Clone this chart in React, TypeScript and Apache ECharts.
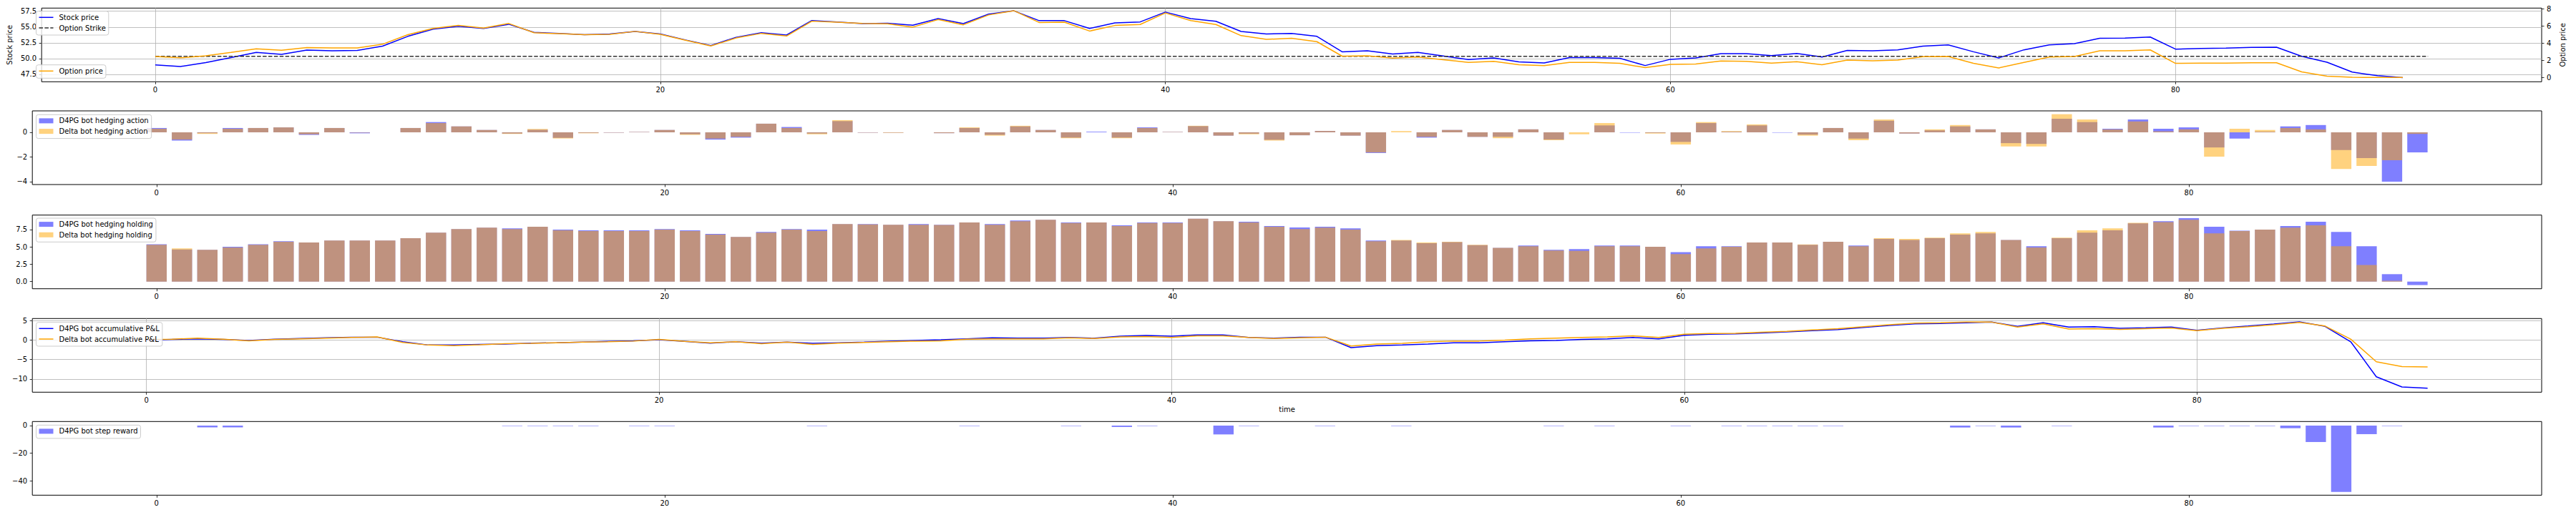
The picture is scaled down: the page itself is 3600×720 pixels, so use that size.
import React, { useEffect, useRef } from 'react';
import * as echarts from 'echarts';

// ---------------- data ----------------
const stockPrice = [
  49.0, 48.75, 49.37, 50.15, 50.98, 50.67, 51.34, 51.24, 51.29, 51.97,
  53.52, 54.67, 55.13, 54.77, 55.44, 54.15, 53.99, 53.78, 53.89, 54.3,
  53.89, 52.95, 52.07, 53.37, 54.09, 53.73, 56.02, 55.81, 55.55, 55.6,
  55.29, 56.33, 55.55, 57.05, 57.57, 56.01, 56.01, 54.77, 55.65, 55.81,
  57.37, 56.33, 55.91, 54.3, 53.89, 53.99, 53.52, 51.08, 51.24, 50.72,
  50.98, 50.41, 49.84, 50.1, 49.47, 49.32, 50.15, 50.15, 50.04, 48.9,
  49.89, 50.1, 50.77, 50.77, 50.46, 50.82, 50.25, 51.29, 51.24, 51.39,
  51.97, 52.17, 51.08, 50.1, 51.39, 52.17, 52.38, 53.21, 53.26, 53.42,
  51.5, 51.6, 51.65, 51.76, 51.81, 50.36, 49.42, 47.86, 47.29, 46.98,
];
const optionPrice = [
  2.45, 2.3, 2.53, 2.92, 3.34, 3.18, 3.49, 3.45, 3.45, 3.88,
  4.99, 5.72, 6.07, 5.76, 6.3, 5.22, 5.11, 4.99, 5.03, 5.38,
  5.03, 4.34, 3.68, 4.61, 5.15, 4.84, 6.57, 6.45, 6.3, 6.26,
  5.88, 6.76, 6.15, 7.3, 7.8, 6.42, 6.45, 5.42, 6.07, 6.18,
  7.53, 6.65, 6.18, 4.88, 4.45, 4.57, 4.18, 2.49, 2.53, 2.26,
  2.38, 2.07, 1.76, 1.88, 1.49, 1.38, 1.76, 1.76, 1.65, 1.15,
  1.53, 1.57, 1.92, 1.88, 1.68, 1.84, 1.49, 2.03, 1.95, 2.03,
  2.42, 2.45, 1.65, 1.11, 1.76, 2.38, 2.45, 3.11, 3.11, 3.22,
  1.65, 1.68, 1.68, 1.72, 1.72, 0.65, 0.15, 0.02, 0.0, 0.0,
];
const optionStrike = 50.35;
const strikeSpan = [0, 90];

const d4pgAction = [
  0.35, -0.67, -0.07, 0.35, 0.35, 0.4, -0.21, 0.35, -0.08, 0,
  0.35, 0.83, 0.48, 0.19, -0.1, 0.21, -0.45, -0.05, -0.03, 0.03,
  0.19, -0.16, -0.59, -0.43, 0.7, 0.43, -0.1, 0.91, -0.03, -0.03,
  0, -0.07, 0.35, -0.21, 0.48, 0.19, -0.43, 0.05, -0.43, 0.4,
  0.03, 0.5, -0.27, -0.11, -0.61, -0.24, 0.11, -0.27, -1.68, 0,
  -0.43, 0.19, -0.37, -0.37, 0.24, -0.59, 0, 0.56, -0.03, -0.05,
  -0.78, 0.75, 0.05, 0.56, -0.03, -0.19, 0.35, -0.51, 0.94, -0.1,
  0.16, 0.48, 0.24, -0.88, -0.94, 1.1, 0.83, 0.29, 1.04, 0.29,
  0.4, -1.23, -0.51, 0.05, 0.48, 0.59, -1.44, -2.09, -4.01, -1.63,
];
const deltaAction = [
  0.29, -0.59, -0.13, 0.29, 0.35, 0.4, -0.16, 0.35, -0.03, 0,
  0.35, 0.75, 0.48, 0.19, -0.13, 0.27, -0.5, -0.08, -0.03, 0.03,
  0.19, -0.21, -0.51, -0.37, 0.7, 0.35, -0.16, 0.99, -0.03, -0.05,
  0, -0.07, 0.4, -0.27, 0.53, 0.19, -0.48, 0, -0.48, 0.35,
  0.03, 0.53, -0.27, -0.16, -0.67, -0.24, 0.11, -0.27, -1.63, 0.1,
  -0.37, 0.19, -0.37, -0.48, 0.24, -0.64, -0.16, 0.75, 0, -0.1,
  -0.99, 0.83, 0.1, 0.64, 0, -0.27, 0.35, -0.64, 1.04, -0.1,
  0.24, 0.59, 0.24, -1.15, -1.15, 1.47, 1.04, 0.24, 0.88, 0.08,
  0.24, -1.98, 0.29, 0.19, 0.35, 0.24, -2.97, -2.73, -2.27, -0.13,
];

const d4pgHolding = [
  5.38, 4.63, 4.58, 5.0, 5.38, 5.81, 5.62, 5.91, 5.91, 5.91,
  6.24, 7.04, 7.57, 7.76, 7.66, 7.88, 7.47, 7.38, 7.38, 7.38,
  7.57, 7.38, 6.86, 6.43, 7.14, 7.57, 7.47, 8.27, 8.27, 8.18,
  8.27, 8.18, 8.51, 8.27, 8.8, 8.89, 8.51, 8.51, 8.09, 8.51,
  8.51, 9.04, 8.7, 8.61, 7.99, 7.8, 7.9, 7.66, 5.91, 5.91,
  5.53, 5.67, 5.24, 4.86, 5.19, 4.58, 4.67, 5.19, 5.19, 5.0,
  4.25, 5.1, 5.1, 5.62, 5.62, 5.29, 5.72, 5.19, 6.14, 6.0,
  6.24, 6.76, 6.95, 6.0, 5.1, 6.24, 7.04, 7.38, 8.37, 8.7,
  9.13, 7.9, 7.33, 7.47, 7.99, 8.61, 7.14, 5.1, 1.07, -0.5,
];
const deltaHolding = [
  5.29, 4.77, 4.58, 4.91, 5.29, 5.72, 5.62, 5.91, 5.91, 5.91,
  6.24, 7.04, 7.57, 7.76, 7.57, 7.88, 7.38, 7.28, 7.28, 7.28,
  7.47, 7.28, 6.76, 6.43, 7.04, 7.47, 7.28, 8.27, 8.22, 8.18,
  8.18, 8.14, 8.51, 8.18, 8.7, 8.89, 8.42, 8.51, 7.99, 8.42,
  8.42, 9.04, 8.7, 8.51, 7.9, 7.57, 7.76, 7.47, 5.81, 6.0,
  5.62, 5.72, 5.29, 4.86, 5.1, 4.48, 4.43, 5.1, 5.1, 5.0,
  3.96, 4.77, 5.0, 5.62, 5.62, 5.34, 5.72, 5.1, 6.24, 6.14,
  6.33, 6.95, 7.14, 6.0, 4.91, 6.33, 7.38, 7.66, 8.47, 8.56,
  8.89, 6.95, 7.28, 7.47, 7.76, 8.09, 5.1, 2.39, 0.12, 0,
];

const d4pgPnL = [
  0, 0.17, 0.34, 0.17, -0.08, 0.25, 0.42, 0.59, 0.76, 0.76,
  -0.42, -1.26, -1.26, -1.09, -1.0, -0.76, -0.67, -0.5, -0.34, -0.17,
  0.08, -0.34, -0.76, -0.42, -0.76, -0.5, -0.84, -0.67, -0.5, -0.25,
  -0.08, 0.08, 0.34, 0.59, 0.5, 0.5, 0.67, 0.5, 1.01, 1.18,
  1.01, 1.34, 1.34, 0.67, 0.5, 0.76, 0.76, -1.93, -1.43, -1.26,
  -1.01, -0.67, -0.67, -0.42, -0.17, -0.08, 0.17, 0.34, 0.67, 0.34,
  1.26, 1.51, 1.6, 1.85, 2.1, 2.44, 2.69, 3.28, 3.78, 4.2,
  4.29, 4.45, 4.62, 3.53, 4.45, 3.36, 3.45, 3.03, 3.19, 3.36,
  2.52, 3.11, 3.61, 4.12, 4.71, 3.53, -0.42, -9.41, -12.02, -12.35,
];
const deltaPnL = [
  0.17, 0.25, 0.5, 0.25, -0.17, 0.17, 0.34, 0.5, 0.67, 0.84,
  -0.59, -1.26, -1.43, -1.18, -0.92, -0.84, -0.67, -0.5, -0.42, -0.25,
  0.17, -0.34, -0.67, -0.42, -0.92, -0.5, -1.09, -0.76, -0.59, -0.42,
  -0.25, -0.17, 0.25, 0.34, 0.34, 0.34, 0.59, 0.42, 0.84, 0.92,
  0.67, 1.09, 1.09, 0.67, 0.42, 0.59, 0.76, -1.51, -1.01, -0.84,
  -0.42, -0.25, -0.25, 0, 0.34, 0.5, 0.67, 0.84, 1.09, 0.67,
  1.51, 1.68, 1.76, 2.02, 2.27, 2.6, 2.94, 3.45, 3.95, 4.37,
  4.45, 4.62, 4.62, 3.36, 4.2, 2.86, 2.94, 2.77, 2.94, 3.11,
  2.44, 3.03, 3.45, 3.95, 4.54, 3.61, 0.25, -5.55, -6.81, -6.89,
];

const d4pgReward = [
  0, 0, -1.3, -1.3, 0, 0, 0, 0, 0, 0,
  0, 0, 0, 0, -0.3, -0.3, -0.3, -0.3, 0, -0.3,
  -0.3, 0, 0, 0, 0, 0, -0.3, 0, 0, 0,
  0, 0, -0.3, 0, 0, 0, -0.3, 0, -1.0, -0.3,
  0, 0, -6.4, -0.3, 0, 0, -0.3, 0, 0, -0.3,
  0, 0, 0, 0, 0, -0.3, 0, -0.3, 0, 0,
  -0.3, 0, -0.3, -0.3, -0.3, -0.3, -0.3, 0, 0, 0,
  0, -1.4, -0.3, -1.4, 0, -0.3, 0, 0, 0, -1.4,
  -0.3, -0.3, -0.3, -0.3, -1.9, -11.9, -48.1, -6.2, -0.3, 0,
];

const xTicks = [0, 20, 40, 60, 80];
const stockTicks = [47.5, 50, 52.5, 55, 57.5];
const optionTicks = [0, 2, 4, 6, 8];
const actionTicks = [-4, -2, 0];
const holdingTicks = [0, 2.5, 5, 7.5];
const pnlTicks = [-10, -5, 0, 5];
const rewardTicks = [-40, -20, 0];

// ---------------- styling / layout ----------------
const FONT = 'DejaVu Sans';
const TXT = { color: '#000', fontFamily: FONT, fontSize: 10 };
const BLUE = '#0000ff';
const ORANGE = '#ffa500';
const BLUE_A = 'rgba(0,0,255,0.5)';
const ORANGE_A = 'rgba(255,165,0,0.5)';
const GRIDLINE = { color: '#b0b0b0', width: 0.8 };
const LEFT = 45.2;
const WIDTH = 3506.8;
const TOPS = [11.3, 155, 300.7, 445.3, 589.3];
const HEIGHT = 103;
const BAR_W = 28.4;

const LINE_ICON = 'path://M0,0H20V1.5H0Z';
const DASH_ICON = 'path://M0,0H5.5V1.5H0Z M7.9,0H13.4V1.5H7.9Z M15.8,0H20V1.5H15.8Z';

const minus = (s: string) => s.replace('-', '\u2212');
const fmt1 = (v: number) => minus(v.toFixed(1));
const fmt0 = (v: number) => minus(String(v));

function xAxisOf(gridIndex: number, min: number, max: number, grid: boolean, extra: any = {}) {
  return {
    type: 'value',
    gridIndex,
    min,
    max,
    position: 'bottom',
    axisLine: { show: false, onZero: false },
    axisTick: { show: true, customValues: xTicks, length: 3.5, lineStyle: { color: '#000', width: 0.8 } },
    axisLabel: { customValues: xTicks, margin: 6, ...TXT, formatter: fmt0 },
    splitLine: { show: grid, lineStyle: GRIDLINE },
    ...extra,
  };
}

function yAxisOf(gridIndex: number, min: number, max: number, ticks: number[], fmt: any, grid: boolean, extra: any = {}) {
  return {
    type: 'value',
    gridIndex,
    min,
    max,
    position: 'left',
    axisLine: { show: false, onZero: false },
    axisTick: { show: true, customValues: ticks, length: 3.5, lineStyle: { color: '#000', width: 0.8 } },
    axisLabel: { customValues: ticks, margin: 7, ...TXT, formatter: fmt },
    splitLine: { show: grid, lineStyle: GRIDLINE },
    ...extra,
  };
}

const pts = (arr: number[]) => arr.map((v, i) => [i, v]);

const legendBase = {
  orient: 'vertical',
  left: 50.5,
  itemWidth: 20,
  itemHeight: 7,
  itemGap: 3.7,
  padding: [3.1, 4, 4.5, 4],
  borderColor: '#cccccc',
  borderWidth: 1,
  borderRadius: 3,
  backgroundColor: 'rgba(255,255,255,0.8)',
  selectedMode: false,
  textStyle: { ...TXT, lineHeight: 11, padding: [0, 0, 0, 3] },
};

function buildOption(): any {
  const grids = TOPS.map((t) => ({
    left: LEFT,
    top: t,
    width: WIDTH,
    height: HEIGHT,
    show: true,
    borderColor: '#000',
    borderWidth: 1,
    backgroundColor: 'transparent',
  }));
  return {
    animation: false,
    backgroundColor: '#ffffff',
    textStyle: { fontFamily: FONT },
    grid: grids,
    xAxis: [
      xAxisOf(0, -4.5, 94.5, true),
      xAxisOf(1, -4.89, 93.89, false),
      xAxisOf(2, -4.89, 93.89, false),
      xAxisOf(3, -4.45, 93.45, true, {
        name: 'time',
        nameLocation: 'middle',
        nameGap: 19,
        nameTextStyle: { ...TXT },
      }),
      xAxisOf(4, -4.89, 93.89, false),
    ],
    yAxis: [
      yAxisOf(0, 46.33, 58.0, stockTicks, fmt1, true, {
        name: 'Stock price',
        nameLocation: 'middle',
        nameGap: 40.5,
        nameRotate: 90,
        nameTextStyle: { ...TXT, verticalAlign: 'middle' },
      }),
      yAxisOf(0, -0.5, 8.1, optionTicks, fmt0, false, {
        position: 'right',
        name: 'Option price',
        nameLocation: 'middle',
        nameGap: 21,
        nameRotate: 90,
        nameTextStyle: { ...TXT, verticalAlign: 'middle' },
      }),
      yAxisOf(1, -4.24, 1.74, actionTicks, fmt0, false),
      yAxisOf(2, -1.03, 9.57, holdingTicks, fmt1, false),
      yAxisOf(3, -13.37, 5.55, pnlTicks, fmt0, true),
      yAxisOf(4, -50.4, 2.95, rewardTicks, fmt0, false),
    ],
    legend: [
      {
        ...legendBase, top: 15.7,
        data: [
          { name: 'Stock price', icon: LINE_ICON },
          { name: 'Option Strike', icon: DASH_ICON },
        ],
      },
      { ...legendBase, top: 90.7, data: [{ name: 'Option price', icon: LINE_ICON }] },
      { ...legendBase, top: 160.3, icon: 'rect', data: ['D4PG bot hedging action', 'Delta bot hedging action'] },
      { ...legendBase, top: 305, icon: 'rect', data: ['D4PG bot hedging holding', 'Delta bot hedging holding'] },
      {
        ...legendBase, top: 450.7,
        data: [
          { name: 'D4PG bot accumulative P&L', icon: LINE_ICON },
          { name: 'Delta bot accumulative P&L', icon: LINE_ICON },
        ],
      },
      { ...legendBase, top: 594.3, icon: 'rect', data: ['D4PG bot step reward'] },
    ],
    series: [
      {
        name: 'Stock price', type: 'line', xAxisIndex: 0, yAxisIndex: 0, symbol: 'none', showSymbol: false,
        data: pts(stockPrice), lineStyle: { color: BLUE, width: 1.5 }, itemStyle: { color: BLUE },
      },
      {
        name: 'Option Strike', type: 'line', xAxisIndex: 0, yAxisIndex: 0, symbol: 'none', showSymbol: false,
        data: strikeSpan.map((x) => [x, optionStrike]),
        lineStyle: { color: '#333333', width: 1.5, type: [5.5, 2.4] }, itemStyle: { color: '#333333' },
      },
      {
        name: 'Option price', type: 'line', xAxisIndex: 0, yAxisIndex: 1, symbol: 'none', showSymbol: false,
        data: pts(optionPrice), lineStyle: { color: ORANGE, width: 1.5 }, itemStyle: { color: ORANGE },
      },
      {
        name: 'D4PG bot hedging action', type: 'bar', xAxisIndex: 1, yAxisIndex: 2,
        data: pts(d4pgAction), barWidth: BAR_W, barGap: '-100%', itemStyle: { color: BLUE_A },
      },
      {
        name: 'Delta bot hedging action', type: 'bar', xAxisIndex: 1, yAxisIndex: 2,
        data: pts(deltaAction), barWidth: BAR_W, barGap: '-100%', itemStyle: { color: ORANGE_A },
      },
      {
        name: 'D4PG bot hedging holding', type: 'bar', xAxisIndex: 2, yAxisIndex: 3,
        data: pts(d4pgHolding), barWidth: BAR_W, barGap: '-100%', itemStyle: { color: BLUE_A },
      },
      {
        name: 'Delta bot hedging holding', type: 'bar', xAxisIndex: 2, yAxisIndex: 3,
        data: pts(deltaHolding), barWidth: BAR_W, barGap: '-100%', itemStyle: { color: ORANGE_A },
      },
      {
        name: 'D4PG bot accumulative P&L', type: 'line', xAxisIndex: 3, yAxisIndex: 4, symbol: 'none', showSymbol: false,
        data: pts(d4pgPnL), lineStyle: { color: BLUE, width: 1.5 }, itemStyle: { color: BLUE },
      },
      {
        name: 'Delta bot accumulative P&L', type: 'line', xAxisIndex: 3, yAxisIndex: 4, symbol: 'none', showSymbol: false,
        data: pts(deltaPnL), lineStyle: { color: ORANGE, width: 1.5 }, itemStyle: { color: ORANGE },
      },
      {
        name: 'D4PG bot step reward', type: 'bar', xAxisIndex: 4, yAxisIndex: 5,
        data: pts(d4pgReward), barWidth: BAR_W, itemStyle: { color: BLUE_A },
      },
    ],
  };
}

export default function App() {
  const ref = useRef<HTMLDivElement>(null);
  useEffect(() => {
    if (!ref.current) return;
    const chart = echarts.init(ref.current, null, { renderer: 'svg' });
    chart.setOption(buildOption());
    return () => chart.dispose();
  }, []);
  return (
    <div
      ref={ref}
      style={{ position: 'fixed', left: 0, top: 0, width: 3600, height: 720, background: '#fff' }}
    />
  );
}
